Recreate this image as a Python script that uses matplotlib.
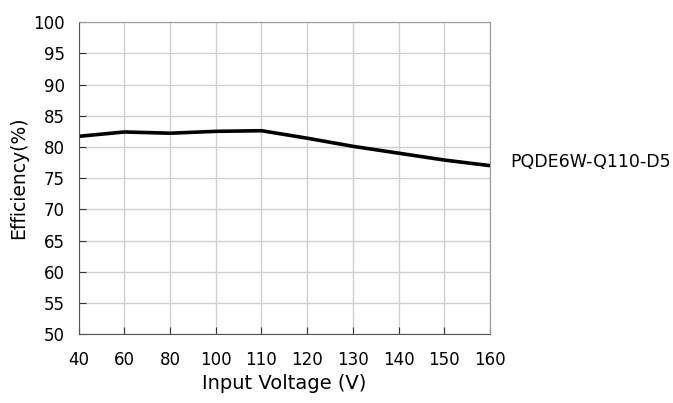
import numpy as np
import matplotlib
matplotlib.use("Agg")
import matplotlib.pyplot as plt

# Datos
voltajes = ["40", "60", "80", "100", "110", "120", "130", "140", "150", "160"]
eficiencia = [81.7, 82.4, 82.2, 82.5, 82.6, 81.4, 80.1, 79.0, 77.9, 77.0]
modelo = "PQDE6W-Q110-D5"

fig = plt.figure(figsize=(6.73, 4.03), dpi=100)
ax = fig.add_axes([0.117, 0.171, 0.611, 0.774])

pos = np.arange(len(voltajes))
ax.plot(pos, eficiencia, color="black", linewidth=2.6, solid_capstyle="butt")

ax.set_xlim(0, len(voltajes) - 1)
ax.set_ylim(50, 100)
ax.set_xticks(pos)
ax.set_xticklabels(voltajes)
ax.set_yticks(np.arange(50, 101, 5))
ax.grid(True, color="#d0d0d0", linewidth=1)
ax.set_axisbelow(True)
ax.tick_params(direction="in", length=5, labelsize=12, colors="#333333", pad=10)
ax.tick_params(axis="x", pad=12, labelcolor="black")
ax.tick_params(axis="y", labelcolor="black")

for lado in ["left", "bottom"]:
    ax.spines[lado].set_color("#555555")
for lado in ["top", "right"]:
    ax.spines[lado].set_color("#999999")

ax.set_xlabel("Input Voltage (V)", fontsize=14, labelpad=4)
ax.set_ylabel("Efficiency(%)", fontsize=13.5, labelpad=4)

ax.text(1.05, eficiencia[-1] + 0.6, modelo, transform=ax.get_yaxis_transform(),
        fontsize=12.5, va="center", ha="left")

fig.savefig("out.png", dpi=100)
